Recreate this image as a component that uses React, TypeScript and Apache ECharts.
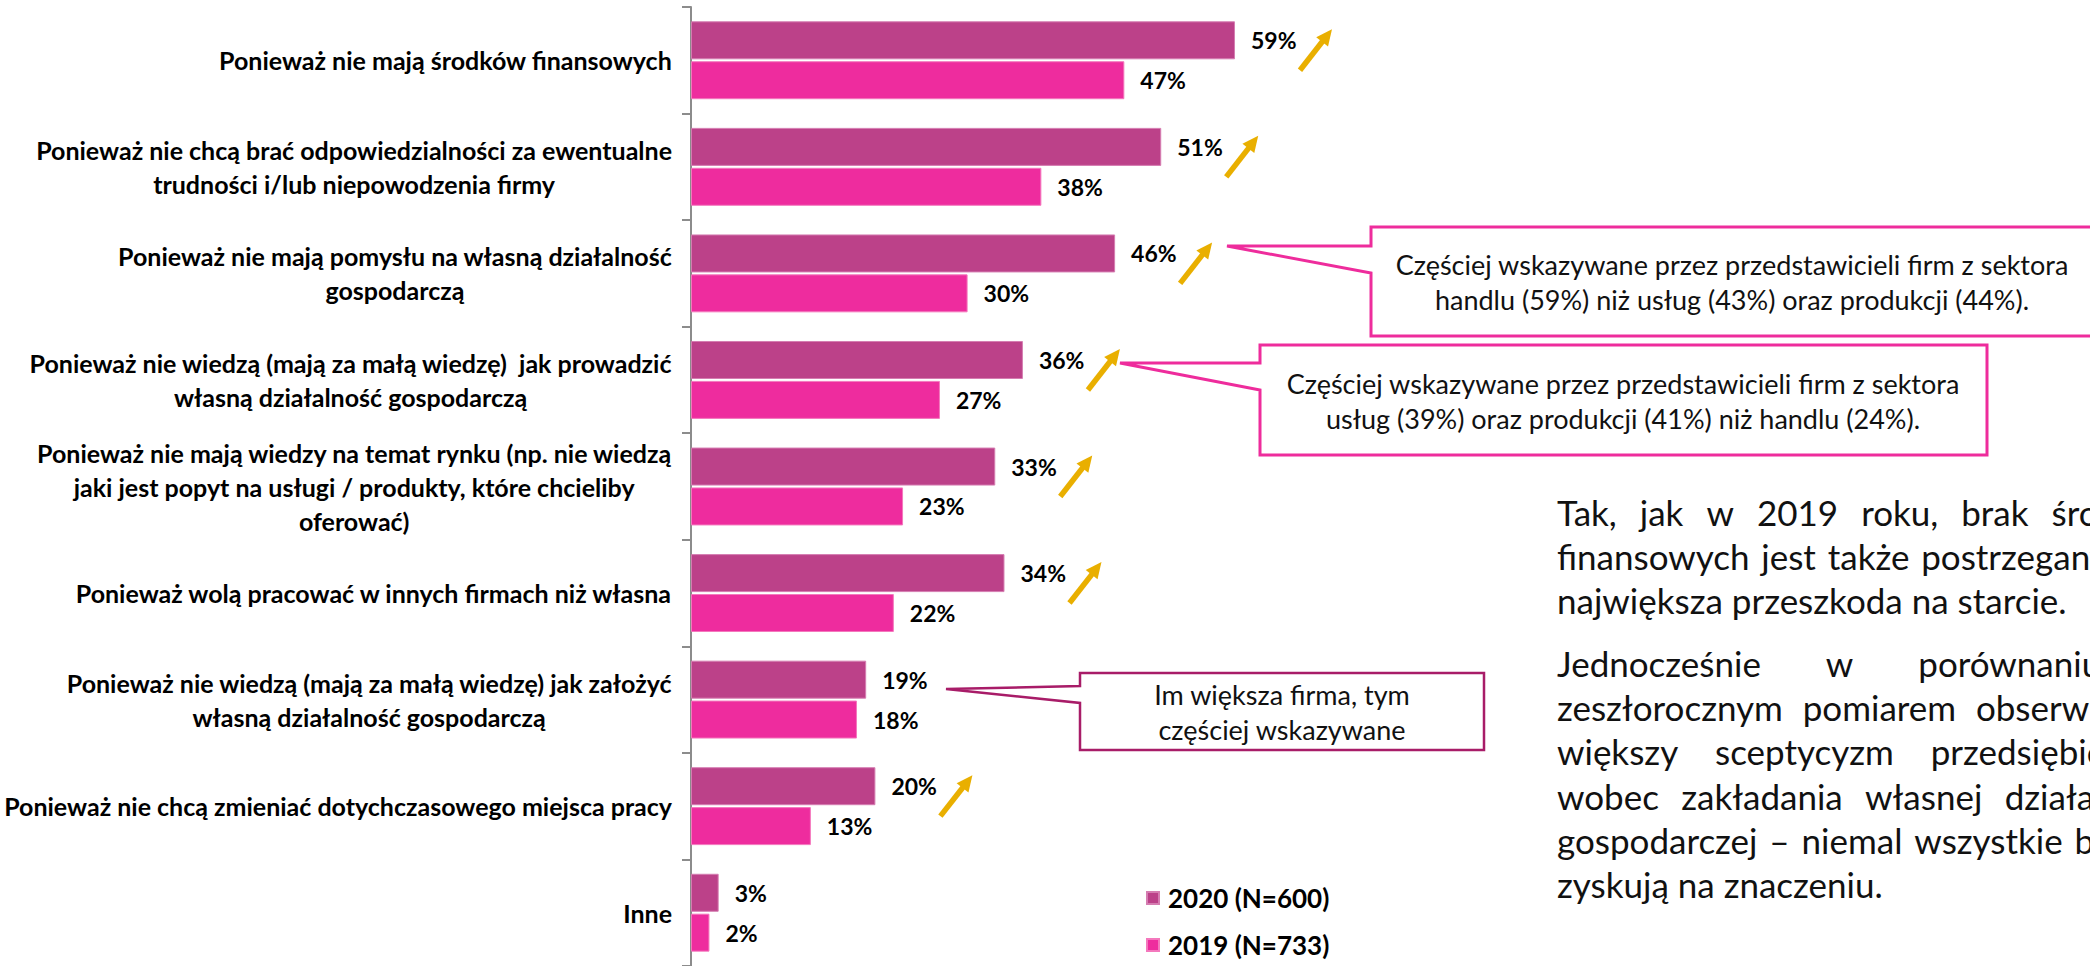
import React, { useEffect, useRef } from 'react';
import * as echarts from 'echarts';

const categories = [
  'Ponieważ nie mają środków finansowych',
  'Ponieważ nie chcą brać odpowiedzialności za ewentualne\ntrudności i/lub niepowodzenia firmy',
  'Ponieważ nie mają pomysłu na własną działalność\ngospodarczą',
  'Ponieważ nie wiedzą (mają za małą wiedzę)  jak prowadzić\nwłasną działalność gospodarczą',
  'Ponieważ nie mają wiedzy na temat rynku (np. nie wiedzą\njaki jest popyt na usługi / produkty, które chcieliby\noferować)',
  'Ponieważ wolą pracować w innych firmach niż własna',
  'Ponieważ nie wiedzą (mają za małą wiedzę) jak założyć\nwłasną działalność gospodarczą',
  'Ponieważ nie chcą zmieniać dotychczasowego miejsca pracy',
  'Inne',
];
const values2020 = [59, 51, 46, 36, 33, 34, 19, 20, 3];
const values2019 = [47, 38, 30, 27, 23, 22, 18, 13, 2];
const increased = [true, true, true, true, true, true, false, true, false];
const seriesNames = ['2020 (N=600)', '2019 (N=733)'];

const calloutTrade = 'Częściej wskazywane przez przedstawicieli firm z sektora\nhandlu (59%) niż usług (43%) oraz produkcji (44%).';
const calloutServices = 'Częściej wskazywane przez przedstawicieli firm z sektora\nusług (39%) oraz produkcji (41%) niż handlu (24%).';
const calloutSize = 'Im większa firma, tym\nczęściej wskazywane';

const paragraph1 = [
  'Tak, jak w 2019 roku, brak środków',
  'finansowych jest także postrzegany jako',
  'największa przeszkoda na starcie.',
];
const paragraph2 = [
  'Jednocześnie w porównaniu z',
  'zeszłorocznym pomiarem obserwujemy',
  'większy sceptycyzm przedsiębiorców',
  'wobec zakładania własnej działalności',
  'gospodarczej – niemal wszystkie bariery',
  'zyskują na znaczeniu.',
];

const C2020 = '#BC4189';
const C2019 = '#EE2C9E';
const GOLD = '#E9AF00';
const PINK = '#EE2C9C';
const PLUM = '#A81C68';
const FONT = 'Lato';

export default function App() {
  const ref = useRef<HTMLDivElement>(null);

  useEffect(() => {
    if (!ref.current) return;
    const chart = echarts.init(ref.current, undefined, { renderer: 'svg' });

    // --- justified paragraph helper
    const canvas = document.createElement('canvas');
    const ctx = canvas.getContext('2d')!;
    const pFont = 35;
    ctx.font = `${pFont}px ${FONT}`;
    const spaceW = ctx.measureText(' ').width;
    const justifyW = 625;
    const pX = 1557;
    const pLine = 44.2;
    const paraGraphics: any[] = [];
    const addPara = (lines: string[], y0: number, key: string) => {
      lines.forEach((line, i) => {
        const words = line.split(' ');
        const last = i === lines.length - 1;
        const wordsW = words.reduce((s, w) => s + ctx.measureText(w).width, 0);
        let gap = words.length > 1 ? (justifyW - wordsW) / (words.length - 1) : spaceW;
        if (last || gap < spaceW) gap = spaceW;
        const name = `g${key}${i}`;
        const text = words.join(`{${name}| }`);
        paraGraphics.push({
          type: 'text',
          x: pX,
          y: y0 + i * pLine,
          z: 20,
          style: {
            text,
            fontSize: pFont,
            fontFamily: FONT,
            fill: '#111',
            align: 'left',
            verticalAlign: 'middle',
            rich: { [name]: { width: gap, fontSize: pFont, fontFamily: FONT } },
          },
        });
      });
    };
    addPara(paragraph1, 512, 'a');
    addPara(paragraph2, 663, 'b');

    const callout = (points: number[][], stroke: string, lw: number) => ({
      type: 'polygon',
      z: 10,
      shape: { points },
      style: { fill: '#fff', stroke, lineWidth: lw, lineJoin: 'miter' },
    });
    const calloutText = (text: string, x: number, y: number) => ({
      type: 'text',
      x,
      y,
      z: 11,
      style: {
        text,
        fontSize: 27,
        fontFamily: FONT,
        fill: '#111',
        align: 'center',
        verticalAlign: 'middle',
        lineHeight: 35,
      },
    });

    const arrowData = values2020
      .map((v, i) => (increased[i] ? [v, categories[i]] : null))
      .filter((d) => d !== null);

    const valueLabel = {
      show: true,
      position: 'right',
      distance: 16,
      formatter: '{c}%',
      fontSize: 23,
      fontWeight: 'bold',
      fontFamily: FONT,
      color: '#000',
    };

    const option: any = {
      animation: false,
      backgroundColor: '#fff',
      grid: { left: 691, top: 7, width: 922, height: 964, containLabel: false },
      xAxis: {
        type: 'value',
        min: 0,
        max: 100,
        show: false,
      },
      yAxis: {
        type: 'category',
        inverse: true,
        data: categories,
        axisLine: { show: true, lineStyle: { color: '#8C8C8C', width: 2 } },
        axisTick: { show: true, length: 9, lineStyle: { color: '#8C8C8C', width: 2 } },
        axisLabel: {
          margin: 19,
          formatter: (v: string) => v.split('\n').map((l) => `{c|${l}}`).join('\n'),
          rich: {
            c: {
              align: 'center',
              fontSize: 25,
              fontWeight: 'bold',
              fontFamily: FONT,
              color: '#000',
              lineHeight: 34,
            },
          },
        },
        splitLine: { show: false },
      },
      legend: {
        data: seriesNames,
        orient: 'vertical',
        left: 1141,
        top: 880,
        itemWidth: 12,
        itemHeight: 12,
        itemGap: 21,
        icon: 'rect',
        textStyle: {
          fontSize: 26,
          fontWeight: 'bold',
          fontFamily: FONT,
          color: '#000',
          lineHeight: 26,
          padding: [0, 0, 0, 4],
        },
      },
      series: [
        {
          name: seriesNames[0],
          type: 'bar',
          data: values2020,
          barWidth: 38,
          barGap: '5%',
          itemStyle: { color: C2020, borderColor: '#D57DB1', borderWidth: 1 },
          label: valueLabel,
        },
        {
          name: seriesNames[1],
          type: 'bar',
          data: values2019,
          barWidth: 38,
          barGap: '5%',
          itemStyle: { color: C2019, borderColor: '#F478BD', borderWidth: 1 },
          label: valueLabel,
        },
        {
          name: 'trend',
          type: 'custom',
          coordinateSystem: 'cartesian2d',
          data: arrowData,
          encode: { x: 0, y: 1 },
          clip: false,
          silent: true,
          z: 5,
          renderItem: (_params: any, api: any) => {
            const p = api.coord([api.value(0), api.value(1)]);
            const tx = p[0] + 65;
            const ty = p[1] + 10;
            const hx = tx + 32;
            const hy = ty - 41;
            const dx = hx - tx;
            const dy = hy - ty;
            const L = Math.hypot(dx, dy);
            const ux = dx / L;
            const uy = dy / L;
            const nx = -uy;
            const ny = ux;
            const headLen = 16;
            const headW = 7.5;
            const bx = hx - ux * headLen;
            const by = hy - uy * headLen;
            return {
              type: 'group',
              children: [
                {
                  type: 'line',
                  shape: { x1: tx, y1: ty, x2: bx + ux * 2, y2: by + uy * 2 },
                  style: { stroke: GOLD, lineWidth: 5.5 },
                },
                {
                  type: 'polygon',
                  shape: {
                    points: [
                      [hx, hy],
                      [bx + nx * headW, by + ny * headW],
                      [bx - nx * headW, by - ny * headW],
                    ],
                  },
                  style: { fill: GOLD },
                },
              ],
            };
          },
        },
      ],
      graphic: [
        callout(
          [[1371, 227], [2093, 227], [2093, 336], [1371, 336], [1371, 273], [1227, 246], [1371, 246]],
          PINK,
          3
        ),
        calloutText(calloutTrade, 1732, 282),
        callout(
          [[1260, 345], [1987, 345], [1987, 455], [1260, 455], [1260, 390], [1120, 363], [1260, 363]],
          PINK,
          3
        ),
        calloutText(calloutServices, 1623, 401),
        callout(
          [[1080, 673], [1484, 673], [1484, 750], [1080, 750], [1080, 703], [946, 689], [1080, 686]],
          PLUM,
          2.5
        ),
        calloutText(calloutSize, 1282, 712),
        ...paraGraphics,
      ],
    };

    chart.setOption(option);
    return () => chart.dispose();
  }, []);

  return (
    <div
      ref={ref}
      style={{ position: 'absolute', left: 0, top: 0, width: 2090, height: 966, background: '#fff' }}
    />
  );
}
